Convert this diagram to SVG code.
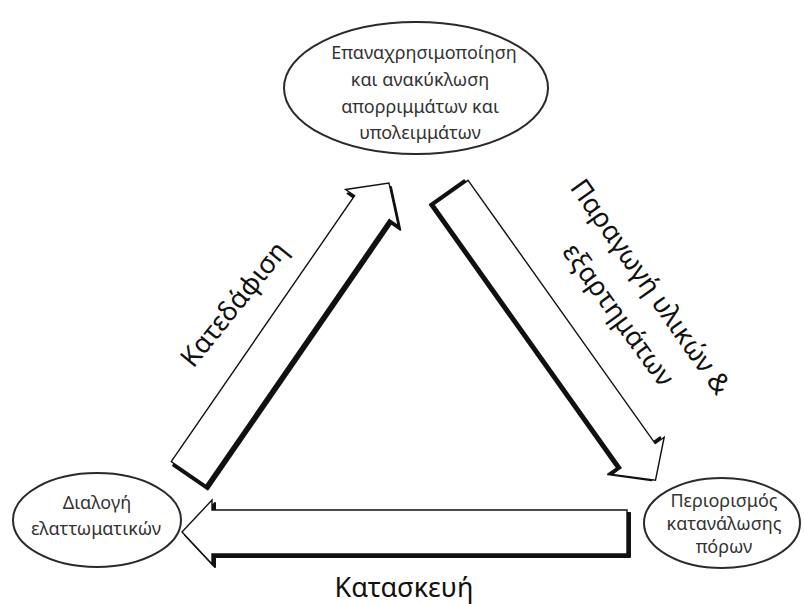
<svg xmlns="http://www.w3.org/2000/svg" width="804" height="604" viewBox="0 0 804 604">
  <style>
    .node ellipse { fill: #ffffff; stroke: #2a2a2a; stroke-width: 2; }
    .node text { font-family: "Noto Sans", "DejaVu Sans", sans-serif; font-size: 18px; fill: #333333; text-anchor: middle; }
    .arrow-body { fill: #ffffff; stroke: #111111; stroke-width: 1.4; stroke-linejoin: miter; }
    .arrow-shadow { fill: #111111; stroke: #111111; stroke-width: 2; stroke-linejoin: round; }
    .label { font-family: "Noto Sans", "DejaVu Sans", sans-serif; font-size: 27px; fill: #111111; text-anchor: middle; }
  </style>
  <defs>
    <!-- block arrow along +x, tail at origin -->
    <path id="diag-arrow" d="M0,-21 H323 V-32 L353,0 L323,32 V21 H0 Z"/>
    <path id="flat-arrow" d="M0,-22 H415 V-32 L445,0 L415,32 V22 H0 Z"/>
  </defs>

  <rect width="804" height="604" fill="#ffffff"/>

  <g id="connectors">
    <!-- Κατεδάφιση: bottom-left up to the top -->
    <g id="arrow-demolition">
      <use href="#diag-arrow" class="arrow-shadow" transform="translate(190.5,477.5) rotate(-55.4)"/>
      <use href="#diag-arrow" class="arrow-body" transform="translate(188.5,473.5) rotate(-55.4)"/>
    </g>
    <!-- Παραγωγή: top down to the right -->
    <g id="arrow-production">
      <use href="#diag-arrow" class="arrow-shadow" transform="translate(447,192.5) rotate(54.6)"/>
      <use href="#diag-arrow" class="arrow-body" transform="translate(451,192.5) rotate(54.6)"/>
    </g>
    <!-- Κατασκευή: right to left along the bottom -->
    <g id="arrow-construction">
      <use href="#flat-arrow" class="arrow-shadow" transform="translate(630,535) rotate(180)"/>
      <use href="#flat-arrow" class="arrow-body" transform="translate(627,532) rotate(180)"/>
    </g>
  </g>

  <g id="labels">
    <text class="label" transform="translate(241,310) rotate(-51)">Κατεδάφιση</text>
    <text class="label" transform="translate(643,292) rotate(54.8)">Παραγωγή υλικών &amp;</text>
    <text class="label" transform="translate(611,320) rotate(54)">εξαρτημάτων</text>
    <text class="label" x="404" y="597">Κατασκευή</text>
  </g>

  <g id="node-reuse" class="node">
    <ellipse cx="416" cy="88" rx="132" ry="66"/>
    <text x="424" y="59">Επαναχρησιμοποίηση</text>
    <text x="420" y="86">και ανακύκλωση</text>
    <text x="420" y="113">απορριμμάτων και</text>
    <text x="420" y="139">υπολειμμάτων</text>
  </g>

  <g id="node-sorting" class="node">
    <ellipse cx="97" cy="520" rx="84" ry="47"/>
    <text x="97" y="509">Διαλογή</text>
    <text x="96" y="535">ελαττωματικών</text>
  </g>

  <g id="node-limit" class="node">
    <ellipse cx="722" cy="523" rx="78" ry="45"/>
    <text x="724" y="507">Περιορισμός</text>
    <text x="724" y="530">κατανάλωσης</text>
    <text x="724" y="553">πόρων</text>
  </g>
</svg>
